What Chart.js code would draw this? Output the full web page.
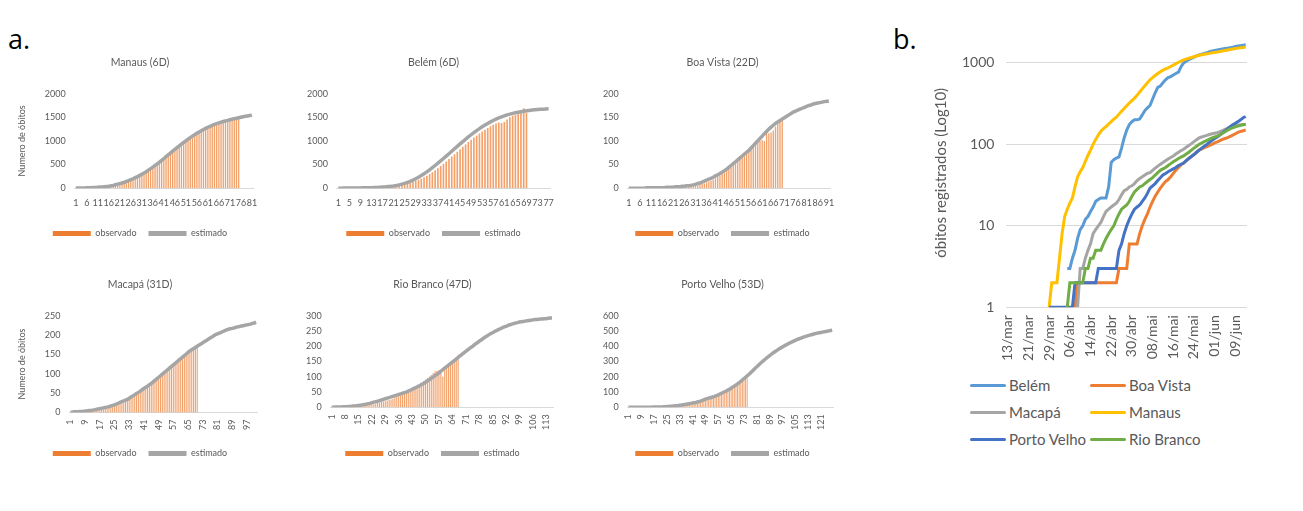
<!DOCTYPE html>
<html>
<head>
<meta charset="utf-8">
<script src="https://cdn.jsdelivr.net/npm/chart.js@4.4.1/dist/chart.umd.min.js"></script>
<style>
  body { margin: 0; background: #fff; font-family: Lato, 'Open Sans', sans-serif; }
  #page { position: relative; width: 1303px; height: 511px; overflow: hidden; }
  canvas { position: absolute; }
  .tag { position: absolute; font-size: 27px; color: #000; font-family: 'Open Sans', sans-serif; }
  #legendB { position: absolute; left: 970px; top: 374px; display: grid; grid-template-columns: 120px 140px; row-gap: 5px; font-size: 15px; color: #595959; }
  .item { display: flex; align-items: center; height: 22px; white-space: nowrap; }
  .swatch { width: 36px; height: 3px; border-radius: 2px; margin-right: 3px; }
</style>
</head>
<body>
<div id="page">
  <div class="tag" style="left:8px;top:20px">a.</div>
  <div class="tag" style="left:893px;top:20px">b.</div>
  <canvas id="manaus" width="254" height="200" style="left:13px;top:48px"></canvas>
  <canvas id="belem" width="271" height="200" style="left:298px;top:48px"></canvas>
  <canvas id="boavista" width="257" height="200" style="left:594px;top:48px"></canvas>
  <canvas id="macapa" width="254" height="198" style="left:13px;top:270px"></canvas>
  <canvas id="riobranco" width="271" height="198" style="left:297px;top:270px"></canvas>
  <canvas id="portovelho" width="257" height="198" style="left:594px;top:270px"></canvas>
  <canvas id="cb" width="337" height="352" style="left:923px;top:18px"></canvas>
  <div id="legendB"></div>
</div>
<script>
// ---- panel a: observed bars and estimated curve per city (day index starts at 1) ----
const manausObs = [1,1,1,1,2,2,3,4,5,7, 9,12,15,19,24,30,38,46,55,62, 72,85,100,118,140,160,180,200,225,250,
  275,300,330,360,390,425,460,500,540,580, 620,660,700,740,780,820,860,900,935,970,
  1000,1035,1070,1100,1130,1160,1185,1210,1235,1260, 1280,1300,1320,1340,1360,1375,1390,1400,1410,1420,
  1430,1440,1450,1460,1470];
const manausEst = [2,3,4,5,6,8,10,12,14,17, 20,24,28,32,37,42,50,60,72,85, 97,110,125,142,160,180,200,222,245,270,
  296,323,350,382,414,447,481,516,552,590, 628,666,704,743,782,820,858,895,931,967,
  1002,1036,1069,1101,1132,1161,1189,1216,1241,1265, 1288,1309,1329,1348,1365,1381,1396,1410,1423,1435,
  1446,1458,1470,1480,1490,1500,1510,1520,1528,1536,1545];

const belemObs = [0,0,0,1,1,1,2,2,3,3, 4,5,6,8,10,12,15,20,26,32, 40,48,58,68,80,95,112,130,150,175,
  200,230,262,298,336,378,422,468,516,566, 616,668,720,772,824,876,926,975,1024,1070,
  1115,1158,1200,1238,1275,1308,1340,1370,1390,1380, 1400,1450,1500,1530,1550,1570,1600,1690,1600];
const belemEst = [1,1,2,2,3,3,4,5,6,7, 8,10,12,14,17,20,24,28,34,40, 48,58,70,85,102,122,145,170,200,232,
  267,305,345,388,433,480,528,577,627,678, 729,781,833,885,936,986,1035,1083,1130,1175,
  1218,1259,1298,1335,1370,1402,1432,1460,1486,1509, 1530,1549,1566,1581,1595,1607,1618,1628,1636,1644,
  1651,1657,1662,1667,1671,1675,1678];

const boaVistaObs = [0,0,0,0,0,0,0,0,0,0, 0,0,0,0,0,0,0,0,0,1, 1,1,1,2,2,2,2,3,3,4,
  5,6,7,9,10,12,14,16,18,21, 24,27,30,33,36,40,44,48,52,57, 62,66,71,76,81,86,91,95,98,100,
  102,100,115,116,118,122,130,138,145,150];
const boaVistaEst = [0,0,0,0,0,0,0,0,1,1, 1,1,1,1,1,1,1,2,2,2, 2,3,3,3,4,4,5,5,6,7,
  8,10,11,13,15,17,19,21,23,26, 28,31,34,37,40,44,48,52,56,60, 64,68,72,76,80,85,90,95,100,105,
  110,115,120,125,129,133,137,140,143,146, 149,152,155,158,161,163,165,167,169,171,
  173,175,176,178,179,180,181,182,183,184,184];

const macapaObs = [0,0,0,0,0,0,0,1,1,1, 2,2,3,3,4,5,6,7,8,9, 10,11,13,14,16,18,20,22,24,26,
  28,30,33,36,39,42,45,48,51,55, 58,61,64,68,72,76,80,84,88,92, 96,100,104,108,112,116,121,126,131,136,
  141,146,150,154,158,162,166,169,172,175];
const macapaEst = [1,1,2,2,2,3,3,3,4,4, 5,5,6,7,8,9,10,11,12,13, 14,15,17,18,20,22,24,26,28,30,
  32,34,37,40,43,46,49,52,55,59, 62,65,68,72,75,79,83,87,91,95, 99,103,107,111,115,119,123,127,131,135,
  139,143,147,151,155,159,162,165,168,171, 174,177,180,183,186,189,192,195,198,201,
  203,205,207,209,211,213,215,216,217,218, 220,221,222,223,224,225,226,227,228,230,231,233];

const rioBrancoObs = [0,0,0,0,0,0,0,0,0,0, 1,1,2,2,3,3,4,5,6,7, 8,9,10,12,14,16,18,19,20,22,
  24,26,28,31,34,37,40,43,46,49, 52,55,58,62,66,70,75,80,86,91, 96,101,106,112,118,120,122,118,100,125,
  132,140,146,152,158,165,172];
const rioBrancoEst = [0,0,1,1,1,1,2,2,2,3, 3,4,4,5,6,7,8,9,10,12, 13,15,17,18,20,22,24,26,28,30,
  32,34,36,38,40,42,44,46,48,50, 53,56,59,62,65,68,71,75,78,82, 86,90,95,99,104,108,113,118,123,128,
  133,138,143,148,153,158,163,168,173,178, 183,188,193,197,202,207,211,216,220,225,
  229,233,237,241,244,248,251,254,257,260, 263,265,268,270,272,274,276,277,279,280,
  281,282,283,284,285,286,287,287,288,289, 289,290,290,291,292,292];

const portoVelhoObs = [0,0,0,0,0,0,0,0,0,0, 0,0,0,0,0,1,1,1,1,2, 2,2,2,3,3,3,3,3,4,5,
  6,7,8,9,10,11,12,14,16,18, 20,22,25,28,31,34,38,42,46,50, 55,60,65,70,75,80,86,92,98,104,
  110,116,122,128,135,142,149,156,163,170, 175,180,185,188,190];
const portoVelhoEst = [0,0,0,0,0,0,0,0,0,1, 1,1,1,1,1,2,2,2,2,3, 3,3,4,4,5,6,7,8,9,10,
  11,12,14,15,17,18,20,22,24,26, 28,30,32,35,38,41,45,49,53,57, 60,63,66,69,73,77,82,87,92,97,
  102,107,113,119,125,132,139,146,154,162, 170,179,188,197,206,215,225,235,245,255,
  265,275,285,295,304,313,322,330,338,346, 354,362,369,376,383,389,395,401,407,413,
  418,423,428,433,438,443,447,451,455,459, 463,466,469,472,475,478,481,484,486,488,
  490,492,494,496,498,500,502,504];

// ---- panel b: registered deaths per city, first value at given day (0 = 13/mar) ----
const cityNames = ['Belém', 'Boa Vista', 'Macapá', 'Manaus', 'Porto Velho', 'Rio Branco'];
const cityColors = ['#5B9BD5', '#ED7D31', '#A5A5A5', '#FFC000', '#4472C4', '#70AD47'];
const belemStart = 23;
const belemB = [3,3,4,5,7,9,10, 12,13,15,17,20,21,22,22,22,30, 60,65,68,70,90,120,150,175,190,200,
  200,205,230,260,280,300,360,430,500,520, 570,620,660,680,710,740,770,900,1000,1050,
  1100,1140,1180,1220,1250,1280,1310,1340,1370,1400, 1420,1440,1460,1480,1500,1520,1540,1560,1590,1610,
  1630,1650,1670];
const boaVistaStart = 26;
const boaVistaB = [1, 2,2,2,2,2,2,2,2,2,2,2,2,2,2,2,2, 3,3,3,3, 6,6,6,6,
  8,10,12,14,17,20,23,26,29, 32,35,37,40,44,48,52,56,59,63, 67,71,75,80,85,88,91,94,97,100,
  104,107,111,115,118,121,125,130,135,140, 144,147,150];
const macapaStart = 27;
const macapaB = [1,3,3, 4,5,6,8,9,10,11,13,15,16, 17,18,19,21,24,27,28,30,31,33,
  36,38,40,42,44,45,48,51,54,57, 60,63,66,69,72,76,80,84,87,92, 97,102,108,114,120,123,126,129,132,135,
  137,139,143,148,153,158,163,168,170,172, 174,175,176];
const manausStart = 16;
const manausB = [1,2,2,2, 4,8,13,16,19,22,30,40,46,52, 62,73,85,100,115,130,145,156,165,178,
  190,204,216,235,255,275,298,322,345,370, 400,440,480,525,570,620,660,700,740,780,
  815,845,870,905,940,980,1020,1055,1090,1115, 1140,1165,1190,1215,1240,1260,1280,1295,1310,1330,
  1345,1360,1380,1400,1420,1440,1460,1480,1500,1520, 1535,1550,1570];
const portoVelhoStart = 16;
const portoVelhoB = [1,1,1,1, 1,1,1,1,1,1, 2,2,2,2,2,2,2,2,2, 3,3,3,3,3,3,3,3,
  5,6,8,10,12,14,16, 17,18,20,22,25,29,31,33,36,39, 42,44,46,48,50,52,55,57,59,63,
  67,71,75,80,85,90,95,100,106,112, 118,123,130,138,146,155,165,174,182,190, 200,212,220];
const rioBrancoStart = 23;
const rioBrancoB = [1,2,2,2,2,2,2, 3,3,4,4,5,5,5,6,7,8, 9,10,12,14,16,17,18,20,23,26,
  28,30,31,33,35,37,39,42,45,48, 50,52,55,58,61,64,67,70,72,76, 80,85,90,95,100,104,108,112,116,120,
  123,126,131,137,143,149,155,160,164,168, 171,174,176];
const dayCount = 93;
const tickEvery = 8;
const logTicks = [1, 10, 100, 1000];

Chart.defaults.font.family = "Lato, 'Open Sans', sans-serif";
Chart.defaults.color = '#595959';
Chart.defaults.animation = false;

const dayLabels = n => Array.from({ length: n }, (_, i) => String(i + 1));

function smallChart(id, title, n, every, observed, estimated, yMax, yStep, rotate, withTitle, padRight) {
  const labels = dayLabels(n);
  new Chart(document.getElementById(id), {
    type: 'bar',
    data: {
      labels,
      datasets: [
        { type: 'bar', label: 'observado', data: observed, backgroundColor: 'rgba(237,125,49,0.72)',
          barPercentage: 0.6, categoryPercentage: 1, order: 1 },
        { type: 'line', label: 'estimado', data: estimated, borderColor: '#A5A5A5', backgroundColor: '#A5A5A5',
          borderWidth: 3.5, pointRadius: 0, tension: 0, order: 0 },
      ],
    },
    options: {
      responsive: false,
      plugins: {
        title: { display: true, text: title, font: { size: 10.5, weight: 'normal' }, padding: { top: 8, bottom: 25 } },
        legend: {
          position: 'bottom',
          labels: {
            boxWidth: 38, boxHeight: 5, padding: 12, font: { size: 9 },
            sort: (a, b) => a.datasetIndex - b.datasetIndex,
            generateLabels: chart => Chart.defaults.plugins.legend.labels.generateLabels(chart)
              .map(item => ({ ...item, lineWidth: 0, fillStyle: item.datasetIndex === 0 ? '#ED7D31' : '#A5A5A5' })),
          },
        },
        tooltip: { enabled: false },
      },
      scales: {
        x: {
          grid: { display: false, drawTicks: false },
          border: { display: true, color: '#D9D9D9' },
          ticks: {
            autoSkip: false, font: { size: 9 }, padding: rotate ? 7 : 9,
            minRotation: rotate ? 90 : 0, maxRotation: rotate ? 90 : 0,
            callback: (v, i) => (i % every === 0 ? labels[i] : ''),
          },
          // keep the plot clear of the right edge without shifting the centred title and legend
          afterFit: scale => { scale.paddingRight = padRight; },
        },
        y: {
          min: 0, max: yMax,
          grid: { display: false, drawTicks: false },
          border: { display: false },
          ticks: { stepSize: yStep, font: { size: 9 }, padding: 9, callback: v => v },
          title: { display: withTitle, text: 'Numero de óbitos', font: { size: 9 }, padding: { top: 4, bottom: 8 } },
        },
      },
    },
  });
}

smallChart('manaus', 'Manaus (6D)', 81, 5, manausObs, manausEst, 2000, 500, false, true, 14);
smallChart('belem', 'Belém (6D)', 77, 4, belemObs, belemEst, 2000, 500, false, false, 19);
smallChart('boavista', 'Boa Vista (22D)', 91, 5, boaVistaObs, boaVistaEst, 200, 50, false, false, 21);
smallChart('macapa', 'Macapá (31D)', 102, 8, macapaObs, macapaEst, 250, 50, true, true, 10);
smallChart('riobranco', 'Rio Branco (47D)', 116, 7, rioBrancoObs, rioBrancoEst, 300, 50, true, false, 15);
smallChart('portovelho', 'Porto Velho (53D)', 128, 8, portoVelhoObs, portoVelhoEst, 600, 100, true, false, 18);

// ---- panel b ----
const monthNames = ['mar', 'abr', 'mai', 'jun'];
const monthLengths = [31, 30, 31, 30];
const dateLabels = [];
for (let m = 0, d = 13; dateLabels.length < dayCount; d++) {
  if (d > monthLengths[m]) { m++; d = 1; }
  dateLabels.push(String(d).padStart(2, '0') + '/' + monthNames[m]);
}
const fromDay = (start, values) => Array(start).fill(null).concat(values);
const seriesB = [
  fromDay(belemStart, belemB),
  fromDay(boaVistaStart, boaVistaB),
  fromDay(macapaStart, macapaB),
  fromDay(manausStart, manausB),
  fromDay(portoVelhoStart, portoVelhoB),
  fromDay(rioBrancoStart, rioBrancoB),
];

new Chart(document.getElementById('cb'), {
  type: 'line',
  data: {
    labels: dateLabels,
    datasets: cityNames.map((name, i) => ({
      label: name, data: seriesB[i], borderColor: cityColors[i], backgroundColor: cityColors[i],
      borderWidth: 3, pointRadius: 0, tension: 0, order: cityNames.length - i,
    })),
  },
  options: {
    responsive: false,
    layout: { padding: { top: 0, right: 13, bottom: 1 } },
    plugins: { legend: { display: false }, tooltip: { enabled: false } },
    scales: {
      x: {
        offset: true,
        grid: { display: false, drawTicks: false },
        border: { display: false },
        ticks: {
          autoSkip: false, minRotation: 90, maxRotation: 90, padding: 8, font: { size: 14 },
          callback: (v, i) => (i % tickEvery === 0 ? dateLabels[i] : ''),
        },
        afterFit: scale => { scale.paddingRight = 0; },
      },
      y: {
        type: 'logarithmic', min: 1, max: 2000,
        afterBuildTicks: axis => { axis.ticks = logTicks.map(v => ({ value: v })); },
        grid: { color: '#D9D9D9', drawTicks: false },
        border: { display: false },
        ticks: { padding: 12, font: { size: 14 }, callback: v => String(v) },
        title: { display: true, text: 'óbitos registrados (Log10)', font: { size: 15 }, padding: { top: 9, bottom: 0 } },
      },
    },
  },
});

// legend for panel b, two columns like the original
const legendBox = document.getElementById('legendB');
cityNames.forEach((name, i) => {
  const item = document.createElement('div');
  item.className = 'item';
  const sw = document.createElement('span');
  sw.className = 'swatch';
  sw.style.background = cityColors[i];
  item.appendChild(sw);
  item.appendChild(document.createTextNode(name));
  legendBox.appendChild(item);
});
</script>
</body>
</html>
